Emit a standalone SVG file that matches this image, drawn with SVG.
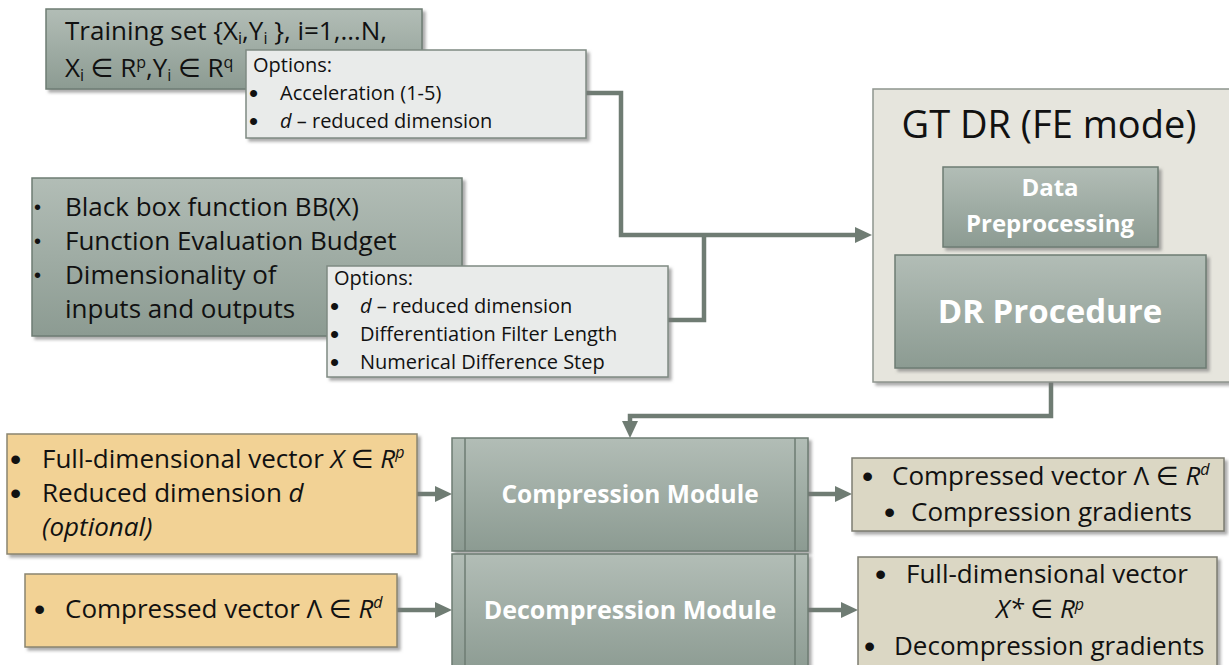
<svg xmlns="http://www.w3.org/2000/svg" width="1229" height="665" viewBox="0 0 1229 665">
<style>
text{font-family:"Open Sans","DejaVu Sans",sans-serif;fill:#111}
.m{font-size:26px}
.o{font-size:20px}
.b{font-family:"Liberation Sans",sans-serif}
.bo{font-size:26px}
.bm{font-size:32px}
.w{fill:#fff;font-weight:bold}
.it{font-style:italic}
.dk{fill:url(#gd);stroke:#6e7c73;stroke-width:1.5}
.op{fill:#e9ebea;stroke:#7f8a83;stroke-width:1.5}
.or{fill:#f2d295;stroke:#8a8570;stroke-width:1.5}
.kh{fill:#dbd7c4;stroke:#7d7d72;stroke-width:1.5}
.sl{stroke:#6e7c73;stroke-width:1.5}
.cn{fill:none;stroke:#6f7c73;stroke-width:4.5}
</style>
<defs>
<linearGradient id="gd" x1="0" y1="0" x2="0" y2="1">
<stop offset="0" stop-color="#b2bdb6"/>
<stop offset="1" stop-color="#8c9b92"/>
</linearGradient>
<filter id="sh" x="-5%" y="-5%" width="115%" height="125%">
<feDropShadow dx="3" dy="3" stdDeviation="1.5" flood-color="#777" flood-opacity="0.6"/>
</filter>
<marker id="ah" viewBox="0 0 17 16" refX="4" refY="8" markerWidth="17" markerHeight="16" markerUnits="userSpaceOnUse" orient="auto">
<path d="M0,0 L17,8 L0,16 z" fill="#6f7c73"/>
</marker>
</defs>

<g id="connectors">
<path class="cn" d="M586,93 H621 V235 H859" marker-end="url(#ah)"/>
<path class="cn" d="M668,320 H704 V235"/>
<path class="cn" d="M1051,382 V416 H630 V425" marker-end="url(#ah)"/>
<path class="cn" d="M417,494 H439" marker-end="url(#ah)"/>
<path class="cn" d="M397,610 H439" marker-end="url(#ah)"/>
<path class="cn" d="M808,494 H839" marker-end="url(#ah)"/>
<path class="cn" d="M808,610 H845" marker-end="url(#ah)"/>
</g>

<g id="training-set">
<rect class="dk" x="46" y="9" width="376" height="80" filter="url(#sh)"/>
<text class="m" x="65" y="40">Training set {X<tspan font-size="16" dy="4">i</tspan><tspan dy="-4">,Y</tspan><tspan font-size="16" dy="4">i</tspan><tspan dy="-4"> }, i=1,…N,</tspan></text>
<text class="m" x="65" y="77">X<tspan font-size="16" dy="4">i</tspan><tspan dy="-4"> ∈ R</tspan><tspan font-size="16" dy="-9">p</tspan><tspan dy="9">,Y</tspan><tspan font-size="16" dy="4">i</tspan><tspan dy="-4"> ∈ R</tspan><tspan font-size="16" dy="-9">q</tspan></text>
</g>

<g id="options-1">
<rect class="op" x="246" y="50" width="340" height="88" filter="url(#sh)"/>
<text class="o" x="253" y="72">Options:</text>
<text class="b bo" x="249" y="102">•</text>
<text class="o" x="280" y="100">Acceleration (1-5)</text>
<text class="b bo" x="249" y="130">•</text>
<text class="o" x="280" y="128"><tspan class="it">d</tspan> – reduced dimension</text>
</g>

<g id="black-box">
<rect class="dk" x="32" y="178" width="430" height="158" filter="url(#sh)"/>
<text class="o b" x="34" y="214">•</text>
<text class="m" x="65" y="216">Black box function BB(X)</text>
<text class="o b" x="34" y="248">•</text>
<text class="m" x="65" y="250">Function Evaluation Budget</text>
<text class="o b" x="34" y="282">•</text>
<text class="m" x="65" y="284">Dimensionality of</text>
<text class="m" x="65" y="318">inputs and outputs</text>
</g>

<g id="options-2">
<rect class="op" x="327" y="266" width="341" height="111" filter="url(#sh)"/>
<text class="o" x="334" y="285">Options:</text>
<text class="b bo" x="330" y="315">•</text>
<text class="o" x="360" y="313"><tspan class="it">d</tspan> – reduced dimension</text>
<text class="b bo" x="330" y="343">•</text>
<text class="o" x="360" y="341">Differentiation Filter Length</text>
<text class="b bo" x="330" y="371">•</text>
<text class="o" x="360" y="369">Numerical Difference Step</text>
</g>

<g id="gt-dr">
<rect x="873" y="89" width="360" height="293" fill="#e6e5dd" stroke="#8f958e" stroke-width="1.5" filter="url(#sh)"/>
<text x="1049" y="138" font-size="38" text-anchor="middle">GT DR (FE mode)</text>
</g>

<g id="data-preprocessing">
<rect class="dk" x="943" y="167" width="215" height="80" filter="url(#sh)"/>
<text class="w" x="1050" y="196" font-size="24" text-anchor="middle">Data</text>
<text class="w" x="1050" y="232" font-size="24" text-anchor="middle">Preprocessing</text>
</g>

<g id="dr-procedure">
<rect class="dk" x="895" y="255" width="311" height="113" filter="url(#sh)"/>
<text class="w" x="1050" y="323" font-size="33" text-anchor="middle">DR Procedure</text>
</g>

<g id="input-compression">
<rect class="or" x="7" y="434" width="410" height="120" filter="url(#sh)"/>
<text class="b bm" x="10" y="470">•</text>
<text class="m" x="42" y="468">Full-dimensional vector <tspan class="it">X</tspan> ∈ <tspan class="it">R</tspan><tspan class="it" font-size="16" dy="-10">p</tspan></text>
<text class="b bm" x="10" y="504">•</text>
<text class="m" x="42" y="502">Reduced dimension <tspan class="it">d</tspan></text>
<text class="m it" x="42" y="536">(optional)</text>
</g>

<g id="input-decompression">
<rect class="or" x="25" y="574" width="372" height="73" filter="url(#sh)"/>
<text class="b bm" x="34" y="620">•</text>
<text class="m" x="65" y="618">Compressed vector Λ ∈ <tspan class="it">R</tspan><tspan class="it" font-size="16" dy="-10">d</tspan></text>
</g>

<g id="compression-module">
<rect class="dk" x="452" y="438" width="356" height="113" filter="url(#sh)"/>
<line class="sl" x1="465" y1="438" x2="465" y2="551"/>
<line class="sl" x1="795" y1="438" x2="795" y2="551"/>
<text class="w" x="630" y="503" font-size="24.5" text-anchor="middle">Compression Module</text>
</g>

<g id="decompression-module">
<rect class="dk" x="452" y="554" width="356" height="120" filter="url(#sh)"/>
<line class="sl" x1="465" y1="554" x2="465" y2="674"/>
<line class="sl" x1="795" y1="554" x2="795" y2="674"/>
<text class="w" x="630" y="619" font-size="25" text-anchor="middle">Decompression Module</text>
</g>

<g id="output-compression">
<rect class="kh" x="852" y="458" width="372" height="73" filter="url(#sh)"/>
<text class="b bm" x="862" y="487">•</text>
<text class="m" x="892" y="485">Compressed vector Λ ∈ <tspan class="it">R</tspan><tspan class="it" font-size="16" dy="-10">d</tspan></text>
<text class="b bm" x="884" y="523">•</text>
<text class="m" x="911" y="521">Compression gradients</text>
</g>

<g id="output-decompression">
<rect class="kh" x="858" y="557" width="359" height="112" filter="url(#sh)"/>
<text class="b bm" x="875" y="585">•</text>
<text class="m" x="906" y="583">Full-dimensional vector</text>
<text class="m" x="1040" y="618" text-anchor="middle"><tspan class="it">X*</tspan> ∈ <tspan class="it">R</tspan><tspan class="it" font-size="16" dy="-8">p</tspan></text>
<text class="b bm" x="864" y="657">•</text>
<text class="m" x="894" y="655">Decompression gradients</text>
</g>
</svg>
